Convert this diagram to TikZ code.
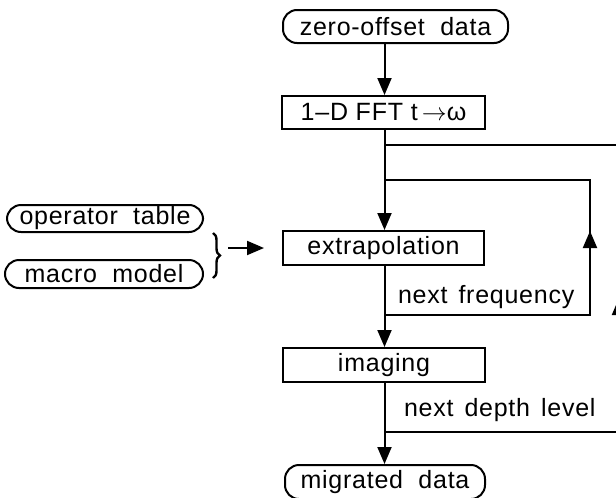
\documentclass[tikz,border=0pt]{standalone}
\usepackage{fontspec}
\setmainfont[LetterSpace=3]{Liberation Sans}
\usetikzlibrary{arrows.meta,decorations.pathreplacing}
\begin{document}
\begin{tikzpicture}[x=1pt,y=-1pt, line width=2pt,
  every node/.style={font=\fontsize{25}{29}\selectfont},
  box/.style={draw, rectangle, minimum height=34pt, inner sep=0pt},
  pill/.style={draw, rectangle, rounded corners=14pt, inner sep=0pt},
  arr/.style={-{Triangle[length=17pt,width=14pt]}},
  lbl/.style={anchor=base west, inner sep=0pt}]
\useasboundingbox (0,0) rectangle (616,498);
% nodes
\node[pill, minimum width=225pt, minimum height=33pt] (zod) at (395.5,26.5) {zero-offset\ \ data};
\node[box, minimum width=203pt, minimum height=33pt] (fft) at (383.5,112.5) {1–D FFT t$\,\rightarrow$ω};
\node[box, minimum width=201pt] (ext) at (383.5,248) {extrapolation};
\node[box, minimum width=202pt] (img) at (384,365) {imaging};
\node[pill, minimum width=200pt, minimum height=34pt] (mig) at (385,482) {migrated\ \ data};
\node[pill, minimum width=196pt, minimum height=27pt] (opt) at (105,218.5) {operator\ \ table};
\node[pill, minimum width=198pt, minimum height=28pt] (mac) at (104,274) {macro\ \ model};
\node[lbl] (nf) at (397,303) {next\hspace{11pt}frequency};
\node[lbl] (nd) at (403,416) {next\hspace{11pt}depth\hspace{11pt}level};
% main column
\coordinate (mx) at (384.5,0);
\draw[arr] (zod.south -| mx) -- (fft.north -| mx);
\draw[arr] (fft.south -| mx) -- (ext.north -| mx);
\draw[arr] (ext.south -| mx) -- (img.north -| mx);
\draw[arr] (img.south -| mx) -- (mig.north -| mx);
% inner loop
\coordinate (f1) at (384.5,315);
\coordinate (f2) at (590,315);
\coordinate (f3) at (590,180);
\coordinate (f4) at (384.5,180);
\coordinate (fa) at (590,231);
\draw (f1) -- (f2) -- (f3) -- (f4);
\draw[arr] (f2) -- (fa);
% outer loop
\coordinate (d1) at (384.5,432);
\coordinate (d2) at (619,432);
\coordinate (d3) at (619,145);
\coordinate (d4) at (384.5,145);
\coordinate (da) at (619,298);
\draw (d1) -- (d2) -- (d3) -- (d4);
\draw[arr] (d2) -- (da);
% brace
\coordinate (bt) at (213,233);
\coordinate (bb) at (213,278);
\draw[line width=2.4pt, decorate, decoration={brace, amplitude=7pt}] (bt) -- (bb);
\coordinate (b1) at (228,248);
\coordinate (b2) at (264,248);
\draw[arr] (b1) -- (b2);
\end{tikzpicture}
\end{document}
